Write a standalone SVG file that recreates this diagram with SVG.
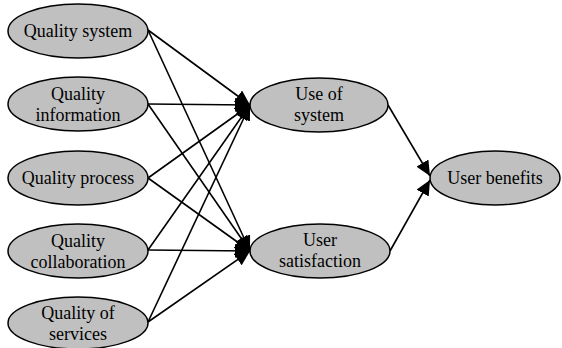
<svg xmlns="http://www.w3.org/2000/svg" width="562" height="348" viewBox="0 0 562 348">
<style>
.n ellipse{fill:#c0c0c0;stroke:#000;stroke-width:1.5}
.n text{font-family:'Liberation Serif','Times New Roman','DejaVu Serif',serif;font-size:18px;fill:#000;text-anchor:middle}
.c line{stroke:#000;stroke-width:1.6;marker-end:url(#ah)}
</style>
<defs>
<marker id="ah" markerUnits="userSpaceOnUse" markerWidth="16" markerHeight="14" refX="15" refY="7" orient="auto">
<path d="M0,0 L15,7 L0,14 z" fill="#000"/>
</marker>
</defs>
<rect width="562" height="348" fill="#fff"/>
<g id="connectors" class="c">
<line x1="148" y1="30" x2="250" y2="105"/>
<line x1="148" y1="30" x2="250" y2="251"/>
<line x1="148" y1="104" x2="250" y2="105"/>
<line x1="148" y1="104" x2="250" y2="251"/>
<line x1="148" y1="178" x2="250" y2="105"/>
<line x1="148" y1="178" x2="250" y2="251"/>
<line x1="148" y1="250" x2="250" y2="105"/>
<line x1="148" y1="250" x2="250" y2="251"/>
<line x1="148" y1="322" x2="250" y2="105"/>
<line x1="148" y1="322" x2="250" y2="251"/>
<line x1="388" y1="105" x2="430" y2="176"/>
<line x1="390" y1="251" x2="430" y2="180"/>
</g>
<g id="quality-system" class="n"><ellipse cx="78" cy="31" rx="70" ry="27"/><text x="78" y="37" font-family="Liberation Serif, serif">Quality system</text></g>
<g id="quality-information" class="n"><ellipse cx="78" cy="104" rx="70" ry="27"/><text x="78" y="100">Quality</text><text x="78" y="121">information</text></g>
<g id="quality-process" class="n"><ellipse cx="78" cy="178" rx="70" ry="27"/><text x="78" y="184">Quality process</text></g>
<g id="quality-collaboration" class="n"><ellipse cx="78" cy="251" rx="70" ry="27"/><text x="78" y="247">Quality</text><text x="78" y="268">collaboration</text></g>
<g id="quality-of-services" class="n"><ellipse cx="78" cy="323" rx="70" ry="26"/><text x="78" y="319">Quality of</text><text x="78" y="340">services</text></g>
<g id="use-of-system" class="n"><ellipse cx="319" cy="105" rx="69" ry="27"/><text x="319" y="100">Use of</text><text x="319" y="121">system</text></g>
<g id="user-satisfaction" class="n"><ellipse cx="320" cy="251" rx="70" ry="27"/><text x="320" y="246">User</text><text x="320" y="267">satisfaction</text></g>
<g id="user-benefits" class="n"><ellipse cx="495" cy="178" rx="65" ry="27"/><text x="495" y="184">User benefits</text></g>
</svg>
